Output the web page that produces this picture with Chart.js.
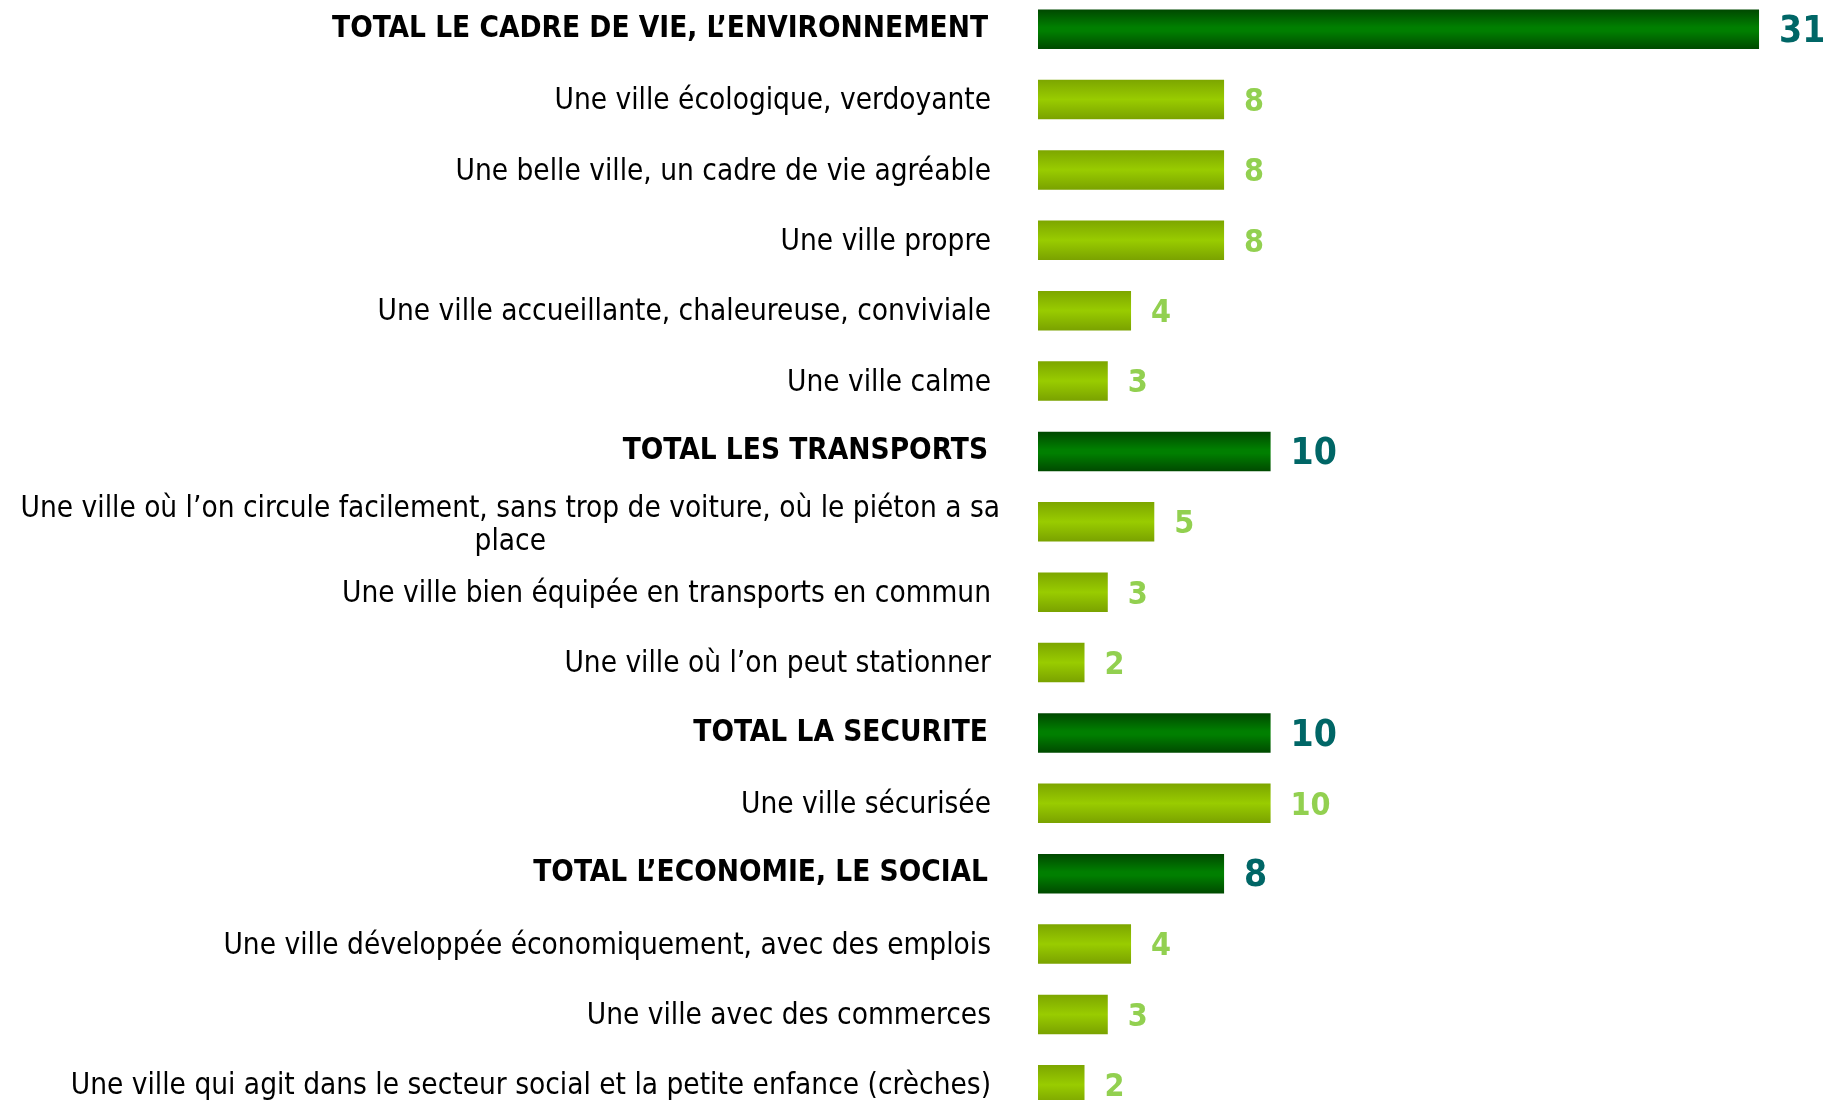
<!DOCTYPE html>
<html>
<head>
<meta charset="utf-8">
<style>
  html, body { margin: 0; padding: 0; background: #fff; overflow: hidden; }
  #wrap { position: relative; width: 1823px; height: 1100px; overflow: hidden; }
  #chart { position: absolute; left: 0; top: -6px; }
</style>
<script src="https://cdn.jsdelivr.net/npm/chart.js@4/dist/chart.umd.min.js"></script>
</head>
<body>
<div id="wrap"><canvas id="chart" width="1823" height="1126"></canvas></div>
<script>
  // ── Data ─────────────────────────────────────────────────────────────
  var CATEGORIES = [
    'TOTAL LE CADRE DE VIE, L\u2019ENVIRONNEMENT',
    'Une ville écologique, verdoyante',
    'Une belle ville, un cadre de vie agréable',
    'Une ville propre',
    'Une ville accueillante, chaleureuse, conviviale',
    'Une ville calme',
    'TOTAL LES TRANSPORTS',
    ['Une ville où l\u2019on circule facilement, sans trop de voiture, où le piéton a sa', 'place'],
    'Une ville bien équipée en transports en commun',
    'Une ville où l\u2019on peut stationner',
    'TOTAL LA SECURITE',
    'Une ville sécurisée',
    'TOTAL L\u2019ECONOMIE, LE SOCIAL',
    'Une ville développée économiquement, avec des emplois',
    'Une ville avec des commerces',
    'Une ville qui agit dans le secteur social et la petite enfance (crèches)'
  ];
  var VALUES = [31, 8, 8, 8, 4, 3, 10, 5, 3, 2, 10, 10, 8, 4, 3, 2];
  var IS_TOTAL = [true, false, false, false, false, false, true, false, false, false, true, false, true, false, false, false];

  var LABEL_FONT = "'DejaVu Sans Condensed', 'DejaVu Sans', sans-serif";
  var VALUE_FONT = "'Liberation Sans Narrow', 'DejaVu Sans Condensed', sans-serif";
  var BAR_PCT = 0.56;

  function barGradient(ctx) {
    var chart = ctx.chart;
    var y = chart.scales.y;
    var total = IS_TOTAL[ctx.dataIndex];
    if (!chart.chartArea || !y) return total ? '#008000' : '#99cc00';
    var c = y.getPixelForValue(ctx.dataIndex);
    var half = Math.abs(y.getPixelForValue(1) - y.getPixelForValue(0)) * BAR_PCT / 2;
    var g = chart.ctx.createLinearGradient(0, c - half, 0, c + half);
    if (total) {
      g.addColorStop(0, '#004800');
      g.addColorStop(0.45, '#007f00');
      g.addColorStop(0.55, '#007f00');
      g.addColorStop(1, '#004a00');
    } else {
      g.addColorStop(0, '#7da600');
      g.addColorStop(0.5, '#99cc00');
      g.addColorStop(1, '#7aa200');
    }
    return g;
  }

  // labels on the left and values after the bars
  var textPlugin = {
    id: 'texts',
    afterDatasetsDraw: function (chart) {
      var ctx = chart.ctx;
      var y = chart.scales.y;
      var meta = chart.getDatasetMeta(0);
      ctx.save();
      ctx.textBaseline = 'middle';
      CATEGORIES.forEach(function (lab, i) {
        var cy = y.getPixelForValue(i);
        var total = IS_TOTAL[i];
        ctx.fillStyle = '#000';
        ctx.font = (total ? 'bold ' : '') + '29.5px ' + LABEL_FONT;
        if (Array.isArray(lab)) {
          var maxW = 0;
          lab.forEach(function (l) { maxW = Math.max(maxW, ctx.measureText(l).width); });
          ctx.textAlign = 'center';
          var lh = 32.5;
          lab.forEach(function (l, k) {
            ctx.fillText(l, 1000 - maxW / 2, cy + 4 + (k - (lab.length - 1) / 2) * lh);
          });
        } else {
          ctx.textAlign = 'right';
          ctx.fillText(lab, total ? 988 : 991, cy + (total ? 0 : 2));
        }
        // value
        var bar = meta.data[i];
        ctx.textAlign = 'left';
        ctx.fillStyle = total ? '#006666' : '#92d050';
        ctx.font = 'bold ' + (total ? '37px ' : '32px ') + VALUE_FONT;
        ctx.fillText(String(VALUES[i]), bar.x + 20, cy + 3);
      });
      ctx.restore();
    }
  };

  new Chart(document.getElementById('chart'), {
    type: 'bar',
    data: {
      labels: CATEGORIES,
      datasets: [{
        data: VALUES,
        backgroundColor: barGradient,
        borderWidth: 0,
        barPercentage: BAR_PCT,
        categoryPercentage: 1
      }]
    },
    options: {
      indexAxis: 'y',
      responsive: false,
      animation: false,
      layout: { padding: { left: 1038, right: 0, top: 0, bottom: 0 } },
      plugins: { legend: { display: false }, tooltip: { enabled: false } },
      scales: {
        x: { display: false, min: 0, max: 33.75 },
        y: { display: false, offset: true }
      }
    },
    plugins: [textPlugin]
  });
</script>
</body>
</html>
